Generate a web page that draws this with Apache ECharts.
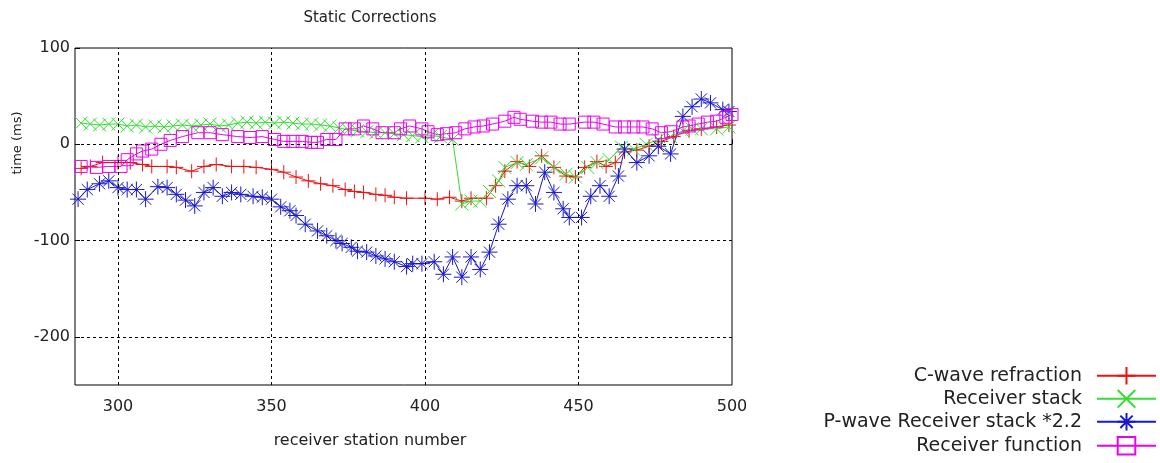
<!DOCTYPE html>
<html lang="en">
<head>
    <meta charset="UTF-8">
    <title>Static Corrections</title>
    <script src="https://cdn.jsdelivr.net/npm/echarts@6/dist/echarts.min.js"></script>
</head>
<body style="margin:0">
<div id="chart" style="width: 1160px; height: 463px;"></div>
<script>
  // C-wave refraction
  var refrX = [288, 291, 295, 300, 304, 308, 311, 316, 319, 324, 328, 332, 337, 341, 345, 350, 354, 358, 362, 366,
    370, 374, 377, 380, 384, 387, 390, 394, 400, 404, 408, 412, 415, 420, 423, 426, 430, 434, 438, 442,
    446, 449, 452, 456, 459, 462, 465, 469, 473, 477, 481, 486, 490, 495, 499];
  var refrY = [-25, -23, -19, -19, -19, -21, -23, -23, -24, -28, -23, -21, -23, -23, -24, -26, -29, -34, -38, -41,
    -43, -47, -49, -50, -52, -53, -55, -56, -56, -57, -55, -59, -56, -56, -43, -28, -18, -23, -12, -24,
    -33, -34, -24, -18, -23, -19, -8, -6, -2, 3, 8, 14, 16, 18, 20];

  // Receiver stack
  var stackX = [288, 291, 294, 297, 300, 303, 306, 309, 312, 315, 318, 321, 324, 327, 330, 333, 336, 339, 342, 345,
    348, 351, 354, 357, 360, 363, 366, 369, 372, 375, 378, 381, 384, 387, 390, 393, 396, 399, 402, 405,
    409, 412, 415, 418, 421, 424, 426, 430, 433, 438, 442, 446, 449, 453, 456, 460, 464, 468, 472, 476,
    480, 484, 487, 490, 495, 499];
  var stackY = [22, 21, 20, 21, 21, 19, 20, 18, 19, 18, 19, 20, 19, 20, 21, 19, 20, 22, 23, 22,
    23, 22, 23, 22, 21, 21, 20, 19, 17, 15, 14, 13, 12, 12, 11, 10, 9, 8, 9, 8,
    5, -62, -59, -59, -49, -38, -24, -19, -21, -14, -24, -31, -34, -24, -19, -16, -3, -5, 0, 5,
    8, 14, 16, 16, 16, 18];

  // P-wave Receiver stack *2.2
  var pwaveX = [287, 290, 294, 297, 300, 303, 306, 309, 313, 316, 319, 322, 325, 328, 331, 334, 337, 340, 344, 347,
    350, 353, 356, 358, 361, 365, 368, 371, 373, 376, 378, 381, 384, 387, 390, 394, 396, 399, 403, 406,
    409, 412, 415, 418, 421, 424, 427, 430, 433, 436, 439, 442, 445, 447, 451, 454, 457, 460, 463, 465,
    469, 473, 476, 480, 484, 487, 490, 493, 497, 499];
  var pwaveY = [-57, -47, -41, -38, -45, -47, -47, -57, -44, -45, -52, -58, -64, -50, -45, -54, -50, -52, -54, -55,
    -57, -65, -69, -74, -83, -90, -95, -100, -103, -107, -111, -112, -116, -119, -122, -127, -124, -124, -122, -135,
    -117, -138, -117, -130, -112, -83, -57, -43, -43, -62, -29, -50, -67, -76, -76, -54, -43, -54, -33, -5,
    -19, -12, -2, -10, 29, 39, 47, 43, 36, 34];

  // Receiver function
  var rfX = [288, 293, 297, 301, 303, 306, 308, 311, 314, 317, 321, 326, 330, 334, 339, 343, 347, 351, 354, 357,
    360, 363, 365, 368, 371, 374, 377, 380, 383, 386, 390, 392, 395, 399, 401, 404, 407, 410, 413, 416,
    419, 422, 426, 429, 431, 435, 438, 441, 444, 447, 452, 455, 458, 462, 465, 468, 471, 474, 477, 480,
    484, 486, 489, 492, 495, 498, 500];
  var rfY = [-23, -24, -23, -23, -16, -10, -7, -5, 0, 4, 8, 12, 12, 10, 8, 7, 8, 5, 3, 3,
    3, 2, 2, 5, 5, 16, 16, 19, 16, 12, 12, 16, 19, 16, 13, 10, 11, 12, 16, 18,
    19, 21, 24, 28, 26, 24, 23, 23, 21, 21, 23, 23, 21, 18, 18, 18, 18, 16, 12, 13,
    18, 19, 21, 23, 24, 28, 31];

  var names = ['C-wave refraction', 'Receiver stack', 'P-wave Receiver stack *2.2', 'Receiver function'];
  var colors = ['#ee1111', '#33dd33', '#1818d0', '#ee00ee'];
  var xTicks = [300, 350, 400, 450, 500];
  var yTicks = [-200, -100, 0, 100];

  function zip(xs, ys) {
    var out = [];
    for (var i = 0; i < xs.length; i++) out.push([xs[i], ys[i]]);
    return out;
  }

  var symPlus = 'path://M0,6L12,6M6,0L6,12';
  var symCross = 'path://M0,0L12,12M12,0L0,12';
  var symStar = 'path://M0,6L12,6M6,0L6,12M1.8,1.8L10.2,10.2M10.2,1.8L1.8,10.2';

  function lineSeries(idx, data, symbol, size) {
    return {
      name: names[idx],
      type: 'line',
      data: data,
      symbol: symbol,
      symbolSize: size,
      showAllSymbol: true,
      animation: false,
      lineStyle: {color: colors[idx], width: 1},
      itemStyle: {color: 'rgba(0,0,0,0)', borderColor: colors[idx], borderWidth: 1},
      emphasis: {disabled: true}
    };
  }

  var font = 'DejaVu Sans';
  var chart = echarts.init(document.getElementById('chart'));

  // one legend per row so the icons line up on the right
  var legendMid = [377, 400, 423, 447];
  var legends = names.map(function (n, i) {
    return {
      data: [n],
      orient: 'vertical',
      right: 3,
      top: legendMid[i] - 11,
      padding: 0,
      align: 'right',
      itemWidth: 59,
      itemHeight: 22,
      selectedMode: false,
      textStyle: {fontFamily: font, fontSize: 19, color: '#222', padding: [0, 10, 0, 0]}
    };
  });

  var option = {
    animation: false,
    backgroundColor: '#fff',
    legend: legends,
    grid: {left: 75, right: 428, top: 48, bottom: 78, show: true, borderColor: '#000', borderWidth: 1},
    xAxis: {
      type: 'value',
      min: 286,
      max: 500,
      axisLine: {show: false},
      splitLine: {show: false},
      axisTick: {show: true, inside: true, length: 5, lineStyle: {color: '#000'}, customValues: xTicks},
      axisLabel: {customValues: xTicks, fontFamily: font, fontSize: 16, color: '#222', margin: 14}
    },
    yAxis: {
      type: 'value',
      min: -250,
      max: 100,
      axisLine: {show: false},
      splitLine: {show: false},
      axisTick: {show: true, inside: true, length: 5, lineStyle: {color: '#000'}, customValues: yTicks},
      axisLabel: {customValues: yTicks, fontFamily: font, fontSize: 16, color: '#222', margin: 5}
    },
    graphic: [
      {type: 'text', x: 370, y: 18, style: {text: 'Static Corrections', font: '15px "DejaVu Sans"', fill: '#222', align: 'center', verticalAlign: 'middle'}},
      {type: 'text', x: 18, y: 143, rotation: Math.PI / 2, style: {text: 'time (ms)', font: '13px "DejaVu Sans"', fill: '#222', align: 'center', verticalAlign: 'middle'}},
      {type: 'text', x: 370, y: 441, style: {text: 'receiver station number', font: '16px "DejaVu Sans"', fill: '#222', align: 'center', verticalAlign: 'middle'}}
    ],
    series: [
      {
        type: 'line',
        data: [],
        silent: true,
        markLine: {
          silent: true,
          symbol: ['none', 'none'],
          label: {show: false},
          lineStyle: {color: '#000', width: 1, type: [3, 3]},
          animation: false,
          data: [{xAxis: 300}, {xAxis: 350}, {xAxis: 400}, {xAxis: 450}, {yAxis: 0}, {yAxis: -100}, {yAxis: -200}]
        }
      },
      lineSeries(0, zip(refrX, refrY), symPlus, 14),
      lineSeries(1, zip(stackX, stackY), symCross, 13),
      lineSeries(2, zip(pwaveX, pwaveY), symStar, 16),
      lineSeries(3, zip(rfX, rfY), 'rect', 12)
    ]
  };

  chart.setOption(option);
</script>
</body>
</html>
